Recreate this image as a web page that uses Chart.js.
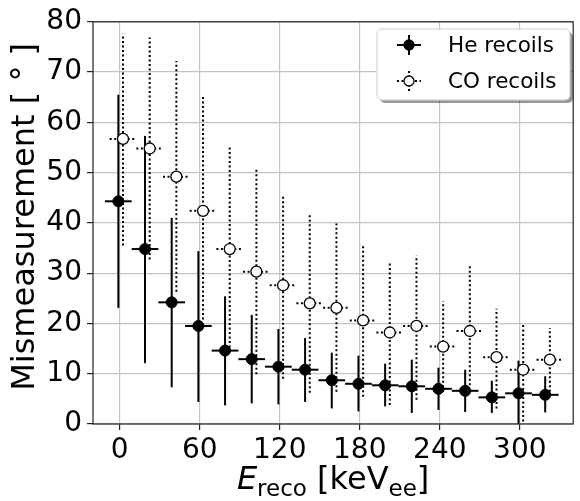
<!DOCTYPE html>
<html>
<head>
<meta charset="utf-8">
<script src="https://cdn.jsdelivr.net/npm/chart.js@4.4.0/dist/chart.umd.min.js"></script>
<style>
  html, body { margin: 0; padding: 0; background: #fff; }
  #wrap { width: 580px; height: 501px; }
</style>
</head>
<body>
<div id="wrap"><canvas id="chart"></canvas></div>
<script>
// reconstructed energy bins (keVee) and mismeasurement angles (deg)
const energies = [0, 20, 40, 60, 80, 100, 120, 140, 160, 180, 200, 220, 240, 260, 280, 300, 320];
const binHalfWidth = 10;

const heMean = [44.3, 34.8, 24.2, 19.5, 14.6, 12.9, 11.4, 10.8, 8.7, 8.0, 7.7, 7.5, 7.0, 6.6, 5.3, 6.1, 5.8];
const heLow  = [23.1, 12.1, 7.3, 4.4, 3.7, 4.1, 3.9, 4.4, 3.1, 2.5, 3.5, 2.2, 2.8, 2.4, 2.2, 0.0, 2.3];
const heHigh = [65.5, 57.3, 41.0, 34.4, 25.4, 21.7, 18.9, 17.1, 14.2, 13.6, 12.0, 12.8, 11.2, 10.8, 8.6, 12.6, 9.5];

const coMean = [56.7, 54.8, 49.2, 42.4, 34.8, 30.3, 27.6, 24.0, 23.1, 20.6, 18.2, 19.5, 15.4, 18.5, 13.3, 10.8, 12.8];
const coLow  = [35.5, 32.7, 26.3, 20.8, 15.2, 9.9, 9.0, 6.2, 6.4, 5.4, 3.8, 4.8, 6.4, 7.7, 3.1, 0.5, 5.5];
const coHigh = [77.6, 76.9, 72.2, 65.4, 55.4, 50.8, 45.5, 41.7, 39.9, 35.8, 32.4, 33.5, 24.4, 31.8, 22.9, 19.9, 19.1];

const xTicks = [0, 60, 120, 180, 240, 300];
const yTicks = [0, 10, 20, 30, 40, 50, 60, 70, 80];

const FONT = "'DejaVu Sans', sans-serif";

// small horizontal shift so the two series don't sit on top of each other
function toPoints(mean, low, high, shift) {
  return energies.map((e, i) => ({
    x: e + shift, y: mean[i],
    yMin: low[i], yMax: high[i],
    xMin: e + shift - binHalfWidth, xMax: e + shift + binHalfWidth
  }));
}

const errorBars = {
  id: 'errorBars',
  beforeDatasetDraw(chart, args) {
    const ds = chart.data.datasets[args.index];
    const xs = chart.scales.x, ys = chart.scales.y;
    const ctx = chart.ctx;
    ctx.save();
    ctx.strokeStyle = '#000';
    ctx.lineWidth = 2;
    ctx.setLineDash(ds.errDash);
    ds.data.forEach(p => {
      const px = xs.getPixelForValue(p.x), py = ys.getPixelForValue(p.y);
      ctx.beginPath();
      ctx.moveTo(px, ys.getPixelForValue(p.yMin));
      ctx.lineTo(px, ys.getPixelForValue(p.yMax));
      ctx.stroke();
      ctx.beginPath();
      ctx.moveTo(xs.getPixelForValue(p.xMin), py);
      ctx.lineTo(xs.getPixelForValue(p.xMax), py);
      ctx.stroke();
    });
    ctx.restore();
  }
};

const frameAndLabels = {
  id: 'frameAndLabels',
  afterDraw(chart) {
    const ctx = chart.ctx;
    const a = chart.chartArea;
    ctx.save();
    // spines
    ctx.strokeStyle = '#222';
    ctx.lineWidth = 1.2;
    ctx.strokeRect(a.left, a.top, a.right - a.left, a.bottom - a.top);

    // y axis title
    ctx.save();
    ctx.translate(34, (a.top + a.bottom) / 2 - 6);
    ctx.rotate(-Math.PI / 2);
    ctx.font = '32px ' + FONT;
    ctx.fillStyle = '#000';
    ctx.textAlign = 'center';
    ctx.textBaseline = 'alphabetic';
    ctx.fillText('Mismeasurement [ ° ]', 0, 0);
    ctx.restore();

    // x axis title: E_reco [keV_ee]
    const big = 32, small = 23, sub = 7;
    const parts = [
      { t: 'E', f: 'italic ' + big + 'px ' + FONT, dy: 0 },
      { t: 'reco', f: small + 'px ' + FONT, dy: sub },
      { t: ' [keV', f: big + 'px ' + FONT, dy: 0 },
      { t: 'ee', f: small + 'px ' + FONT, dy: sub },
      { t: ']', f: big + 'px ' + FONT, dy: 0 }
    ];
    let total = 0;
    parts.forEach(p => { ctx.font = p.f; p.w = ctx.measureText(p.t).width; total += p.w; });
    let x = (a.left + a.right) / 2 - total / 2;
    const base = 489;
    ctx.fillStyle = '#000';
    ctx.textBaseline = 'alphabetic';
    ctx.textAlign = 'left';
    parts.forEach(p => { ctx.font = p.f; ctx.fillText(p.t, x, base + p.dy); x += p.w; });

    // legend
    const lx = 377, ly = 29, lw = 193, lh = 71, r = 5;
    const box = (ox, oy) => {
      ctx.beginPath();
      ctx.roundRect(lx + ox, ly + oy, lw, lh, r);
    };
    ctx.fillStyle = 'rgba(0,0,0,0.4)';
    box(3, 3); ctx.fill();
    ctx.fillStyle = '#fff';
    box(0, 0); ctx.fill();
    ctx.strokeStyle = '#d0d0d0'; ctx.lineWidth = 1;
    box(0, 0); ctx.stroke();

    const rows = [
      { label: 'He recoils', y: 45, dash: [], fill: '#000' },
      { label: 'CO recoils', y: 81, dash: [2, 2.5], fill: '#fff' }
    ];
    const mx = 409;
    rows.forEach(row => {
      ctx.strokeStyle = '#000'; ctx.lineWidth = 2;
      ctx.setLineDash(row.dash);
      ctx.beginPath();
      ctx.moveTo(mx - 12, row.y); ctx.lineTo(mx + 12, row.y);
      ctx.moveTo(mx, row.y - 10); ctx.lineTo(mx, row.y + 10);
      ctx.stroke();
      ctx.setLineDash([]);
      ctx.beginPath();
      ctx.arc(mx, row.y, 5, 0, Math.PI * 2);
      ctx.fillStyle = row.fill; ctx.fill();
      ctx.lineWidth = 1.3; ctx.stroke();
      ctx.fillStyle = '#000';
      ctx.font = '21.5px ' + FONT;
      ctx.textBaseline = 'middle';
      ctx.fillText(row.label, 448, row.y + 1);
    });
    ctx.restore();
  }
};

new Chart(document.getElementById('chart'), {
  type: 'scatter',
  data: {
    datasets: [
      {
        label: 'He recoils',
        data: toPoints(heMean, heLow, heHigh, -1),
        pointRadius: 5.5,
        pointBackgroundColor: '#000',
        pointBorderColor: '#000',
        pointBorderWidth: 1,
        errDash: [],
        order: 2
      },
      {
        label: 'CO recoils',
        data: toPoints(coMean, coLow, coHigh, 2.5),
        pointRadius: 5.5,
        pointBackgroundColor: '#fff',
        pointBorderColor: '#000',
        pointBorderWidth: 1.3,
        errDash: [2, 2.5],
        order: 1
      }
    ]
  },
  options: {
    responsive: true,
    maintainAspectRatio: false,
    animation: false,
    events: [],
    layout: { padding: { top: 16, right: 1, left: 0, bottom: 0 } },
    plugins: {
      legend: { display: false },
      tooltip: { enabled: false }
    },
    scales: {
      x: {
        type: 'linear',
        min: -20,
        max: 340,
        afterBuildTicks: s => { s.ticks = xTicks.map(v => ({ value: v })); },
        afterFit: s => { s.height = 77; },
        grid: { color: '#c4c4c4', lineWidth: 1.2, tickColor: '#222', tickLength: 6 },
        border: { display: false },
        ticks: { color: '#000', font: { family: FONT, size: 28 }, padding: 4, maxRotation: 0 }
      },
      y: {
        min: 0,
        max: 80,
        afterBuildTicks: s => { s.ticks = yTicks.map(v => ({ value: v })); },
        afterFit: s => { s.width = 93; },
        grid: { color: '#c4c4c4', lineWidth: 1.2, tickColor: '#222', tickLength: 6 },
        border: { display: false },
        ticks: { color: '#000', font: { family: FONT, size: 28 }, padding: 5 }
      }
    }
  },
  plugins: [errorBars, frameAndLabels]
});
</script>
</body>
</html>
